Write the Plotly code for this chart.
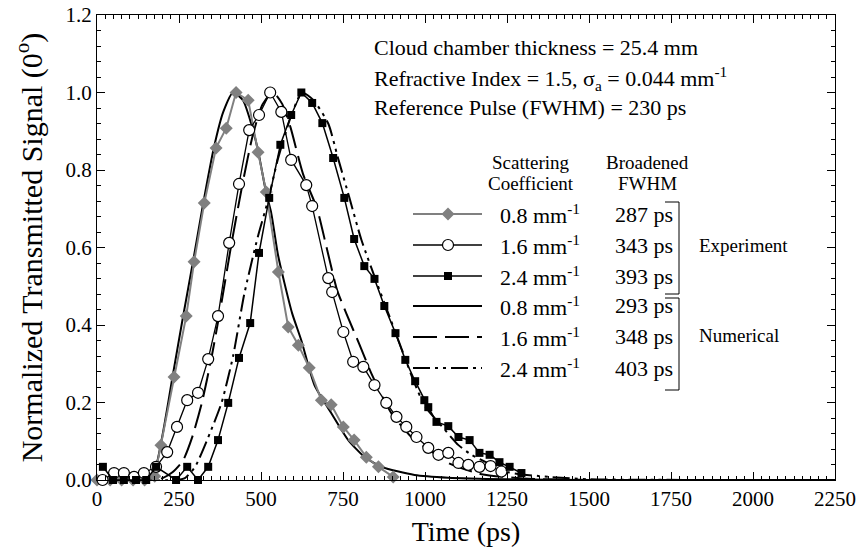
import plotly.graph_objects as go

FONT = "Liberation Serif"

# ---------------- data ----------------
# Experiment, scattering coefficient 0.8 mm^-1 (grey diamonds)
exp08_t = [0, 40, 75, 110, 145, 176, 195, 235, 272, 296, 327, 363, 394, 424, 461, 491, 516, 553,
           583, 614, 647, 684, 714, 751, 784, 821, 858, 903]
exp08_v = [0.0, 0.0, 0.0, 0.0, 0.0, 0.01, 0.09, 0.266, 0.423, 0.563, 0.715, 0.857, 0.908, 1.0,
           0.98, 0.846, 0.743, 0.537, 0.395, 0.348, 0.29, 0.206, 0.194, 0.137, 0.103, 0.059, 0.034, 0.008]

# Experiment, 1.6 mm^-1 (open circles)
exp16_t = [17, 52, 82, 113, 143, 180, 214, 244, 275, 308, 339, 369, 403, 433, 464, 494, 528, 562,
           592, 638, 656, 705, 717, 751, 781, 812, 846, 882, 913, 943, 974, 1010, 1041, 1071, 1102,
           1132, 1166, 1200, 1233]
exp16_v = [0.0, 0.018, 0.018, 0.008, 0.018, 0.034, 0.072, 0.137, 0.206, 0.225, 0.312, 0.423, 0.612,
           0.764, 0.903, 0.942, 1.0, 0.95, 0.826, 0.761, 0.707, 0.521, 0.485, 0.382, 0.305, 0.292,
           0.245, 0.199, 0.163, 0.137, 0.111, 0.083, 0.065, 0.07, 0.044, 0.039, 0.034, 0.036, 0.022]

# Experiment, 2.4 mm^-1 (filled squares)
exp24_t = [18, 49, 82, 119, 150, 180, 241, 275, 308, 339, 369, 400, 433, 467, 494, 525, 559, 592,
           623, 656, 687, 720, 754, 784, 815, 846, 876, 910, 940, 970, 998, 1010, 1035, 1071, 1102,
           1136, 1166, 1197, 1227, 1258, 1294]
exp24_v = [0.034, 0.0, 0.0, 0.0, 0.0, 0.034, 0.0, 0.034, 0.0, 0.034, 0.103, 0.199, 0.315, 0.405,
           0.586, 0.728, 0.865, 0.942, 1.0, 0.973, 0.921, 0.831, 0.728, 0.622, 0.552, 0.519, 0.449,
           0.379, 0.31, 0.255, 0.206, 0.188, 0.15, 0.139, 0.111, 0.103, 0.07, 0.065, 0.046, 0.034, 0.018]

# Numerical, 0.8 mm^-1 (solid)
num08_t = [0, 150, 165, 183, 205, 229, 262, 292, 323, 357, 385, 415, 445, 470, 491, 516, 531, 552,
           571, 595, 623, 663, 714, 766, 815, 867, 968, 1071, 1250, 1500, 2250]
num08_v = [0, 0, 0.005, 0.045, 0.14, 0.26, 0.42, 0.56, 0.71, 0.86, 0.95, 1.0, 0.98, 0.92, 0.85,
           0.74, 0.69, 0.58, 0.51, 0.43, 0.36, 0.245, 0.173, 0.103, 0.06, 0.034, 0.013, 0.006,
           0.002, 0, 0]

# Numerical, 1.6 mm^-1 (dashed)
num16_t = [0, 180, 200, 230, 262, 290, 320, 350, 380, 410, 445, 475, 505, 537, 565, 590, 628, 671,
           700, 732, 760, 800, 836, 897, 968, 1000, 1071, 1172, 1300, 1500, 2250]
num16_v = [0, 0, 0.005, 0.02, 0.05, 0.11, 0.2, 0.32, 0.46, 0.61, 0.77, 0.89, 0.97, 1.0, 0.97, 0.91,
           0.79, 0.70, 0.6, 0.49, 0.43, 0.35, 0.276, 0.173, 0.103, 0.085, 0.044, 0.015, 0.004, 0, 0]

# Numerical, 2.4 mm^-1 (dash-dot-dot)
num24_t = [0, 240, 268, 299, 339, 380, 415, 449, 491, 521, 552, 592, 625, 660, 705, 735, 769, 806,
           857, 897, 928, 968, 1000, 1050, 1102, 1142, 1200, 1254, 1376, 1500, 2250]
num24_v = [0, 0, 0.005, 0.034, 0.11, 0.2, 0.32, 0.48, 0.63, 0.72, 0.83, 0.94, 1.0, 0.98, 0.92,
           0.83, 0.73, 0.62, 0.50, 0.41, 0.34, 0.25, 0.19, 0.14, 0.09, 0.065, 0.04, 0.02, 0.008,
           0.002, 0]

scatter_labels = ["0.8 mm<sup>-1</sup>", "1.6 mm<sup>-1</sup>", "2.4 mm<sup>-1</sup>",
                  "0.8 mm<sup>-1</sup>", "1.6 mm<sup>-1</sup>", "2.4 mm<sup>-1</sup>"]
fwhm_labels = ["287 ps", "343 ps", "393 ps", "293 ps", "348 ps", "403 ps"]

info_lines = ["Cloud chamber thickness = 25.4 mm",
              "Refractive Index = 1.5, σ<sub>a</sub> = 0.044 mm<sup>-1</sup>",
              "Reference Pulse (FWHM) = 230 ps"]

x_ticks = [0, 250, 500, 750, 1000, 1250, 1500, 1750, 2000, 2250]
y_ticks = [0.0, 0.2, 0.4, 0.6, 0.8, 1.0, 1.2]

GREY = "#808080"
DASH16 = "24px,8px"
DASH24 = "17px,5px,3px,5px,3px,5px"

fig = go.Figure()

# numerical curves
for t, v, dash in [(num08_t, num08_v, "solid"), (num16_t, num16_v, DASH16), (num24_t, num24_v, DASH24)]:
    fig.add_trace(go.Scatter(x=t, y=v, mode="lines", showlegend=False, hoverinfo="skip",
                             line=dict(color="black", width=2, dash=dash, shape="spline", smoothing=0.6)))

# experimental series
fig.add_trace(go.Scatter(x=exp08_t, y=exp08_v, mode="lines+markers", showlegend=False, cliponaxis=False,
                         line=dict(color=GREY, width=2),
                         marker=dict(symbol="diamond", size=10, color=GREY, line=dict(width=0))))
fig.add_trace(go.Scatter(x=exp16_t, y=exp16_v, mode="lines+markers", showlegend=False, cliponaxis=False,
                         line=dict(color="black", width=1.3),
                         marker=dict(symbol="circle", size=11, color="white", line=dict(color="black", width=1.2))))
fig.add_trace(go.Scatter(x=exp24_t, y=exp24_v, mode="lines+markers", showlegend=False, cliponaxis=False,
                         line=dict(color="black", width=1.5),
                         marker=dict(symbol="square", size=8, color="black", line=dict(width=0))))

# ---------------- hand-built legend (overlay axis in plot fractions) ----------------
PX0, PX1, PY0, PY1 = 97, 835, 15, 480


def fx(px):
    return (px - PX0) / (PX1 - PX0)


def fy(py):
    return (PY1 - py) / (PY1 - PY0)


rows_py = [214, 245, 276, 306, 337, 368]
gx0, gx1, gxm = fx(413), fx(482), fx(448)
styles = [
    dict(color=GREY, width=2, dash="solid", marker=dict(symbol="diamond", size=10, color=GREY)),
    dict(color="black", width=1.3, dash="solid",
         marker=dict(symbol="circle", size=11, color="white", line=dict(color="black", width=1.2))),
    dict(color="black", width=1.5, dash="solid", marker=dict(symbol="square", size=8, color="black")),
    dict(color="black", width=2, dash="solid", marker=None),
    dict(color="black", width=2, dash=DASH16, marker=None),
    dict(color="black", width=2, dash=DASH24, marker=None),
]
for py, st in zip(rows_py, styles):
    yy = fy(py)
    fig.add_trace(go.Scatter(x=[gx0, gx1], y=[yy, yy], xaxis="x2", yaxis="y2", mode="lines",
                             showlegend=False, hoverinfo="skip",
                             line=dict(color=st["color"], width=st["width"], dash=st["dash"])))
    if st["marker"] is not None:
        fig.add_trace(go.Scatter(x=[gxm], y=[yy], xaxis="x2", yaxis="y2", mode="markers",
                                 showlegend=False, hoverinfo="skip", marker=st["marker"]))

annotations = []
for i, line in enumerate(info_lines):
    annotations.append(dict(x=fx(372), y=fy([48, 78, 108][i]), xref="paper", yref="paper",
                            text=line, showarrow=False, xanchor="left", yanchor="middle",
                            font=dict(family=FONT, size=22, color="black")))
for txt, py in [("Scattering", 162), ("Coefficient", 183)]:
    annotations.append(dict(x=fx(531), y=fy(py), xref="paper", yref="paper", text=txt, showarrow=False,
                            xanchor="center", yanchor="middle", font=dict(family=FONT, size=19, color="black")))
for txt, py in [("Broadened", 162), ("FWHM", 183)]:
    annotations.append(dict(x=fx(647), y=fy(py), xref="paper", yref="paper", text=txt, showarrow=False,
                            xanchor="center", yanchor="middle", font=dict(family=FONT, size=19, color="black")))
for py, s, f in zip(rows_py, scatter_labels, fwhm_labels):
    annotations.append(dict(x=fx(498), y=fy(py), xref="paper", yref="paper", text=s, showarrow=False,
                            xanchor="left", yanchor="middle", font=dict(family=FONT, size=22, color="black")))
    annotations.append(dict(x=fx(613), y=fy(py), xref="paper", yref="paper", text=f, showarrow=False,
                            xanchor="left", yanchor="middle", font=dict(family=FONT, size=22, color="black")))
annotations.append(dict(x=fx(697), y=fy(245), xref="paper", yref="paper", text="Experiment", showarrow=False,
                        xanchor="left", yanchor="middle", font=dict(family=FONT, size=19, color="black")))
annotations.append(dict(x=fx(697), y=fy(335), xref="paper", yref="paper", text="Numerical", showarrow=False,
                        xanchor="left", yanchor="middle", font=dict(family=FONT, size=19, color="black")))

shapes = []
for (top, bot) in [(202, 294), (298, 390)]:
    shapes.append(dict(type="path", xref="paper", yref="paper",
                       path=f"M {fx(665)},{fy(top)} L {fx(679)},{fy(top)} L {fx(679)},{fy(bot)} L {fx(665)},{fy(bot)}",
                       line=dict(color="black", width=1)))

axis_common = dict(showgrid=False, zeroline=False, showline=True, linecolor="black", linewidth=1,
                   mirror="ticks", ticks="inside", ticklen=8, tickwidth=1, tickcolor="black",
                   automargin=False,
                   tickfont=dict(family=FONT, size=21, color="black"))

fig.update_layout(
    width=859, height=556,
    margin=dict(l=PX0, r=859 - PX1, t=PY0, b=556 - PY1, autoexpand=False),
    paper_bgcolor="white", plot_bgcolor="white",
    font=dict(family=FONT, color="black"),
    xaxis=dict(range=[0, 2250], tickvals=x_ticks, ticktext=[str(v) for v in x_ticks],
               title=dict(text="Time (ps)", font=dict(family=FONT, size=28, color="black"), standoff=11),
               minor=dict(dtick=25, tick0=0, ticks="inside", ticklen=4, tickcolor="black", showgrid=False),
               **axis_common),
    yaxis=dict(range=[0, 1.2], tickvals=y_ticks, ticktext=[f"{v:.1f}" for v in y_ticks],
               title=dict(text="Normalized Transmitted Signal (0<sup>o</sup>)",
                          font=dict(family=FONT, size=30, color="black"), standoff=14),
               minor=dict(dtick=0.04, tick0=0, ticks="inside", ticklen=4, tickcolor="black", showgrid=False),
               **axis_common),
    xaxis2=dict(range=[0, 1], overlaying="x", anchor="y2", visible=False, fixedrange=True),
    yaxis2=dict(range=[0, 1], overlaying="y", anchor="x2", visible=False, fixedrange=True),
    annotations=annotations,
    shapes=shapes,
)

fig.write_html("out.html", config={"displayModeBar": False},
               post_script="document.body.style.margin='0';document.body.style.overflow='hidden';")
